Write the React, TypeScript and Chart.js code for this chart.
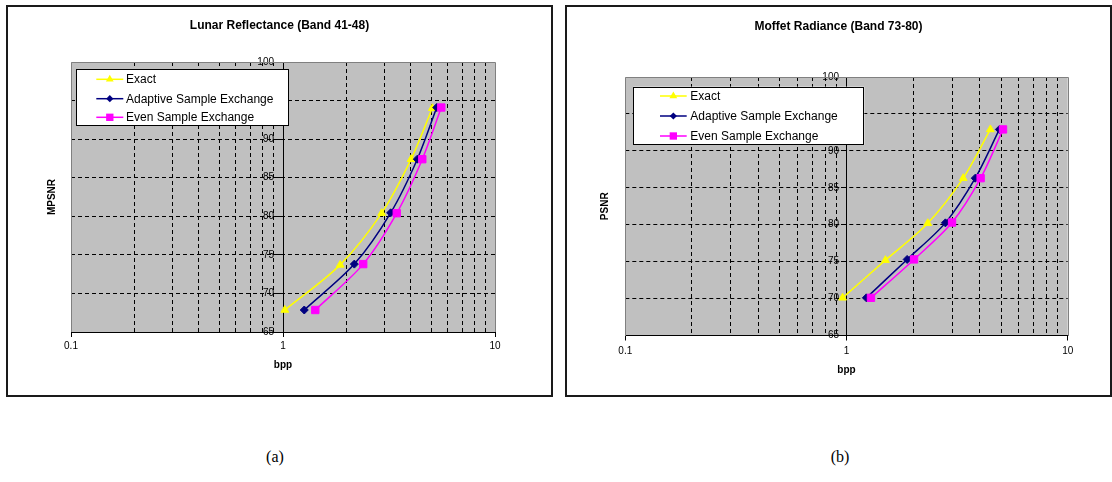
import React, { useEffect, useRef } from "react";
import { Chart, registerables } from "chart.js";

Chart.register(...registerables);
Chart.defaults.font.family = "Arial, 'Liberation Sans', Helvetica, sans-serif";
Chart.defaults.color = "#000";

// ---------- data ----------
const seriesLabels = ["Exact", "Adaptive Sample Exchange", "Even Sample Exchange"];

// (a) Lunar Reflectance (Band 41-48)
const lunarExactBpp = [1.02, 1.86, 2.92, 4.02, 5.06];
const lunarExactSnr = [67.85, 73.7, 80.4, 87.4, 94.0];
const lunarAdaptiveBpp = [1.26, 2.17, 3.22, 4.3, 5.31];
const lunarAdaptiveSnr = [67.85, 73.8, 80.45, 87.4, 94.1];
const lunarEvenBpp = [1.42, 2.39, 3.44, 4.54, 5.58];
const lunarEvenSnr = [67.85, 73.8, 80.4, 87.4, 94.1];

// (b) Moffet Radiance (Band 73-80)
const moffetExactBpp = [0.96, 1.5, 2.33, 3.37, 4.47];
const moffetExactSnr = [70.1, 75.2, 80.2, 86.3, 92.9];
const moffetAdaptiveBpp = [1.23, 1.88, 2.8, 3.82, 4.91];
const moffetAdaptiveSnr = [70.1, 75.3, 80.25, 86.3, 92.9];
const moffetEvenBpp = [1.29, 2.02, 3.0, 4.04, 5.1];
const moffetEvenSnr = [70.1, 75.3, 80.3, 86.3, 92.9];

// axes
const xGridValues = [0.1, 0.2, 0.3, 0.4, 0.5, 0.6, 0.7, 0.8, 0.9, 1, 2, 3, 4, 5, 6, 7, 8, 9, 10];
const xTickValues = [0.1, 1, 10];
const xTickLabels = ["0.1", "1", "10"];
const yMin = 65;
const yMax = 100;
const yStep = 5;

// ---------- styles ----------
const seriesColors = ["#FFFF00", "#000080", "#FF00FF"];
const seriesMarkers = ["triangle", "rectRot", "rect"];
const seriesRadii = [4.5, 4, 5.2];
const seriesOrder = [2, 1, 0];

const isDecade = (v: number) => {
  const l = Math.log10(v);
  return Math.abs(l - Math.round(l)) < 1e-6;
};

function drawMarker(ctx: CanvasRenderingContext2D, style: string, x: number, y: number, r: number) {
  ctx.beginPath();
  if (style === "triangle") {
    ctx.moveTo(x, y - r);
    ctx.lineTo(x + r * 0.866, y + r * 0.5);
    ctx.lineTo(x - r * 0.866, y + r * 0.5);
    ctx.closePath();
  } else if (style === "rectRot") {
    const d = r * 0.9;
    ctx.moveTo(x, y - d);
    ctx.lineTo(x + d, y);
    ctx.lineTo(x, y + d);
    ctx.lineTo(x - d, y);
    ctx.closePath();
  } else {
    const s = r * Math.SQRT1_2;
    ctx.rect(x - s, y - s, 2 * s, 2 * s);
  }
  ctx.fill();
}

const excelFrame = {
  id: "excelFrame",
  beforeDraw(chart: any, _args: any, opts: any) {
    const { ctx, chartArea: a, width, height } = chart;
    ctx.save();
    ctx.fillStyle = "#ffffff";
    ctx.fillRect(0, 0, width, height);
    ctx.fillStyle = "#C0C0C0";
    ctx.fillRect(a.left, a.top, a.right - a.left, a.bottom - a.top);
    ctx.restore();
    // place y labels left of the centred axis
    const ys = chart.scales.y;
    const xs = chart.scales.x;
    const axisPx = xs.getPixelForValue(1);
    for (const it of ys.getLabelItems(chart.chartArea)) {
      it.options.translation[0] = axisPx - opts.labelGap;
      it.options.textAlign = "right";
    }
  },
  beforeDatasetsDraw(chart: any) {
    const { ctx, chartArea: a } = chart;
    ctx.save();
    ctx.strokeStyle = "#808080";
    ctx.lineWidth = 1;
    ctx.beginPath();
    ctx.moveTo(Math.round(a.left) + 0.5, Math.round(a.bottom));
    ctx.lineTo(Math.round(a.left) + 0.5, Math.round(a.top) + 0.5);
    ctx.lineTo(Math.round(a.right) + 0.5, Math.round(a.top) + 0.5);
    ctx.lineTo(Math.round(a.right) + 0.5, Math.round(a.bottom));
    ctx.stroke();
    ctx.restore();
  },
  afterDraw(chart: any, _args: any, opts: any) {
    const { ctx, width, height } = chart;
    const L = opts.legend;
    ctx.save();
    ctx.fillStyle = "#ffffff";
    ctx.fillRect(L.x, L.y, L.w, L.h);
    ctx.strokeStyle = "#000";
    ctx.lineWidth = 1;
    ctx.strokeRect(Math.round(L.x) + 0.5, Math.round(L.y) + 0.5, Math.round(L.w) - 1, Math.round(L.h) - 1);
    chart.data.datasets.forEach((ds: any, i: number) => {
      const y = L.rows[i];
      ctx.strokeStyle = ds.borderColor;
      ctx.lineWidth = 1.5;
      ctx.beginPath();
      ctx.moveTo(L.sx1, y);
      ctx.lineTo(L.sx2, y);
      ctx.stroke();
      ctx.fillStyle = ds.pointBackgroundColor;
      drawMarker(ctx, ds.pointStyle, (L.sx1 + L.sx2) / 2, y, ds.pointRadius);
      ctx.fillStyle = "#000";
      ctx.font = "12px Arial, 'Liberation Sans', sans-serif";
      ctx.textBaseline = "middle";
      ctx.textAlign = "left";
      ctx.fillText(ds.label, L.tx, y + 0.5);
    });
    ctx.strokeStyle = "#1a1a1a";
    ctx.lineWidth = 2;
    ctx.strokeRect(1, 1, width - 2, height - 2);
    ctx.restore();
  },
};

function buildConfig(p: any) {
  const W = p.width;
  const H = p.height;
  const A = p.area;
  const XH = 45;
  const titlePadTop = p.titleCY - 7.2;
  const series = [
    [p.exactBpp, p.exactSnr],
    [p.adaptiveBpp, p.adaptiveSnr],
    [p.evenBpp, p.evenSnr],
  ];
  const datasets = series.map(([bpp, snr], i) => ({
    label: seriesLabels[i],
    data: bpp.map((x: number, j: number) => ({ x, y: snr[j] })),
    borderColor: seriesColors[i],
    backgroundColor: seriesColors[i],
    pointBackgroundColor: seriesColors[i],
    pointBorderColor: seriesColors[i],
    pointBorderWidth: 1,
    pointStyle: seriesMarkers[i],
    pointRadius: seriesRadii[i],
    borderWidth: 1.5,
    tension: 0.3,
    fill: false,
    order: seriesOrder[i],
  }));
  return {
    type: "line",
    data: { datasets },
    options: {
      animation: false,
      responsive: false,
      devicePixelRatio: 1,
      events: [],
      layout: { padding: { left: 0, right: 0, top: 0, bottom: H - A.bottom - XH } },
      plugins: {
        legend: { display: false },
        tooltip: { enabled: false },
        title: {
          display: true,
          text: p.title,
          color: "#000",
          font: { size: 12, weight: "bold" },
          padding: { top: titlePadTop, bottom: A.top - titlePadTop - 14.4 },
        },
        excelFrame: { legend: p.legend, labelGap: p.labelGap },
      },
      scales: {
        x: {
          type: "logarithmic",
          position: "bottom",
          min: 0.1,
          max: 10,
          afterBuildTicks: (s: any) => {
            s.ticks = xGridValues.map((v) => ({ value: v, major: isDecade(v) }));
          },
          afterFit: (s: any) => {
            s.height = XH;
          },
          ticks: {
            autoSkip: false,
            maxRotation: 0,
            minRotation: 0,
            color: "#000",
            font: { size: 10 },
            padding: p.tickCY - A.bottom - 5 - 6,
            callback: (v: any) => {
              const k = xTickValues.findIndex((t) => Math.abs(t - Number(v)) / t < 1e-6);
              return k >= 0 ? xTickLabels[k] : "";
            },
          },
          grid: {
            color: (c: any) => (c.tick ? (isDecade(c.tick.value) ? "rgba(0,0,0,0)" : "#000") : "#000"),
            tickColor: (c: any) => (c.tick ? (isDecade(c.tick.value) ? "#000" : "rgba(0,0,0,0)") : "#000"),
            tickLength: 5,
            lineWidth: 1,
          },
          border: { display: true, color: "#000", width: 1, dash: [4, 3] },
          title: {
            display: true,
            text: "bpp",
            color: "#000",
            font: { size: 10, weight: "bold" },
            padding: { top: 0, bottom: A.bottom + XH - 6 - p.bppCY },
          },
        },
        y: {
          type: "linear",
          position: { x: 1 },
          min: yMin,
          max: yMax,
          ticks: { stepSize: yStep, color: "#000", font: { size: 10 }, padding: 3 },
          grid: {
            color: (c: any) =>
              c.tick && (c.tick.value === yMin || c.tick.value === yMax) ? "rgba(0,0,0,0)" : "#000",
            tickColor: "#000",
            tickLength: 5,
            lineWidth: 1,
          },
          border: { display: true, color: "#000", width: 1, dash: [4, 3] },
        },
        yTitle: {
          type: "linear",
          position: "left",
          display: true,
          afterFit: (s: any) => {
            s.width = A.left;
          },
          ticks: { display: false },
          grid: { display: false },
          border: { display: false },
          title: {
            display: true,
            text: p.yTitle,
            color: "#000",
            font: { size: 10, weight: "bold" },
            padding: { top: p.yTitleX - 6, bottom: 0 },
          },
        },
        yPad: {
          type: "linear",
          position: "right",
          display: true,
          afterFit: (s: any) => {
            s.width = W - A.right;
          },
          ticks: { display: false },
          grid: { display: false },
          border: { display: false },
          title: { display: false },
        },
      },
    },
    plugins: [excelFrame],
  };
}

const panelA = {
  left: 6,
  top: 5,
  width: 547,
  height: 392,
  title: "Lunar Reflectance (Band 41-48)",
  yTitle: "MPSNR",
  exactBpp: lunarExactBpp,
  exactSnr: lunarExactSnr,
  adaptiveBpp: lunarAdaptiveBpp,
  adaptiveSnr: lunarAdaptiveSnr,
  evenBpp: lunarEvenBpp,
  evenSnr: lunarEvenSnr,
  area: { left: 65, right: 489, top: 57, bottom: 327 },
  titleCY: 20.5,
  yTitleX: 46,
  tickCY: 341.7,
  bppCY: 360.5,
  labelGap: 9,
  legend: { x: 70, y: 64, w: 213, h: 57, rows: [74.3, 93.7, 112.3], sx1: 90.3, sx2: 117.3, tx: 120 },
};

const panelB = {
  left: 565,
  top: 5,
  width: 547,
  height: 392,
  title: "Moffet Radiance (Band 73-80)",
  yTitle: "PSNR",
  exactBpp: moffetExactBpp,
  exactSnr: moffetExactSnr,
  adaptiveBpp: moffetAdaptiveBpp,
  adaptiveSnr: moffetAdaptiveSnr,
  evenBpp: moffetEvenBpp,
  evenSnr: moffetEvenSnr,
  area: { left: 60.3, right: 502.7, top: 72, bottom: 330.5 },
  titleCY: 21.5,
  yTitleX: 40,
  tickCY: 346,
  bppCY: 365.5,
  labelGap: 7.5,
  legend: { x: 68.3, y: 81.7, w: 231, h: 58.3, rows: [91, 111, 131], sx1: 95, sx2: 121.7, tx: 125.3 },
};

function Panel({ spec }: { spec: any }) {
  const ref = useRef<HTMLCanvasElement | null>(null);
  useEffect(() => {
    if (!ref.current) return;
    const chart = new Chart(ref.current, buildConfig(spec) as any);
    return () => chart.destroy();
  }, [spec]);
  return (
    <canvas
      ref={ref}
      width={spec.width}
      height={spec.height}
      style={{
        position: "absolute",
        left: spec.left,
        top: spec.top,
        width: spec.width,
        height: spec.height,
      }}
    />
  );
}

const captionStyle: React.CSSProperties = {
  position: "absolute",
  width: 100,
  top: 447,
  lineHeight: "20px",
  textAlign: "center",
  fontFamily: "'Times New Roman', 'Liberation Serif', serif",
  fontSize: 16,
  color: "#000",
};

export default function App() {
  return (
    <div style={{ position: "absolute", left: 0, top: 0, width: 1112, height: 482, background: "#fff" }}>
      <Panel spec={panelA} />
      <Panel spec={panelB} />
      <div style={{ ...captionStyle, left: 275 - 50 }}>(a)</div>
      <div style={{ ...captionStyle, left: 840 - 50 }}>(b)</div>
    </div>
  );
}
